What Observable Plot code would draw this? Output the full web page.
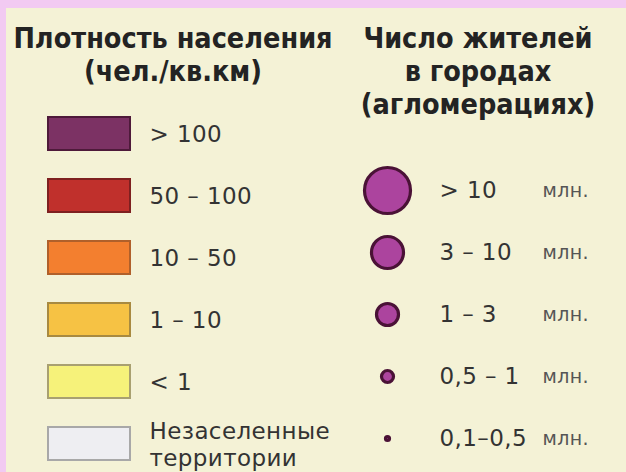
<!DOCTYPE html>
<html><head><meta charset="utf-8">
<script src="https://cdn.jsdelivr.net/npm/d3@7"></script>
<script src="https://cdn.jsdelivr.net/npm/@observablehq/plot@0.6"></script>
<style>
html,body{margin:0;padding:0;background:#f2caf2;}
#frame{position:relative;width:626px;height:472px;background:#f2caf2;overflow:hidden;}
#panel{position:absolute;left:6px;top:8px;right:0;bottom:0;background:#f4f2d6;}
.title{position:absolute;text-align:center;font-family:"DejaVu Sans Condensed","DejaVu Sans",sans-serif;font-stretch:condensed;font-weight:bold;font-size:28.5px;line-height:33px;color:#232323;white-space:pre-line;}
.plot{position:absolute;left:0;top:0;}
</style></head><body>
<div id="frame"><div id="panel"></div>
<div class="title" id="t1" style="left:0;width:346px;top:22px"></div>
<div class="title" id="t2" style="left:350px;width:256px;top:22px"></div>
</div>
<script>
// ---- data ----
const densityTitle = ["Плотность населения", "(чел./кв.км)"];
const cityTitle = ["Число жителей", "в городах", "(агломерациях)"];
const densityClasses = [">100", "50-100", "10-50", "1-10", "<1", "none"];
const densityLabels = ["> 100", "50 – 100", "10 – 50", "1 – 10", "< 1", "Незаселенные\nтерритории"];
const densityFill = ["#7c3264", "#c0302c", "#f37f2f", "#f6c244", "#f6f27a", "#eeeef2"];
const densityStroke = ["#4e1a3a", "#7e2020", "#b0602a", "#a88a40", "#a8a070", "#a8a8a8"];
const cityClasses = [">10", "3-10", "1-3", "0.5-1", "0.1-0.5"];
const cityLabels = ["> 10", "3 – 10", "1 – 3", "0,5 – 1", "0,1–0,5"];
const cityUnit = ["млн.", "млн.", "млн.", "млн.", "млн."];

document.getElementById("t1").textContent = densityTitle.join("\n");
document.getElementById("t2").textContent = cityTitle.join("\n");

const dens = densityClasses.map((c, i) => ({c, label: densityLabels[i], fill: densityFill[i], stroke: densityStroke[i]}));
const cities = cityClasses.map((c, i) => ({c, label: cityLabels[i], unit: cityUnit[i]}));

const font = "DejaVu Sans, sans-serif";

const left = Plot.plot({
  width: 626, height: 472, margin: 0,
  style: {background: "transparent", fontFamily: font, letterSpacing: "0.4px"},
  x: {type: "band", domain: ["swatch"], range: [48, 130], padding: 0, axis: null},
  y: {type: "band", domain: densityClasses, range: [102, 475.2], paddingInner: 0.47, paddingOuter: 0.235, axis: null},
  color: {type: "identity"},
  marks: [
    Plot.cell(dens, {x: () => "swatch", y: "c", fill: "fill", stroke: "stroke", strokeWidth: 2, inset: 0}),
    Plot.text(dens, {y: "c", text: "label", frameAnchor: "left", dx: 149, textAnchor: "start", fontSize: 23, fill: "#333", lineHeight: 1.15})
  ]
});
left.classList.add("plot");

const right = Plot.plot({
  width: 626, height: 472, margin: 0,
  style: {background: "transparent", fontFamily: font, letterSpacing: "0.4px"},
  x: {type: "point", domain: ["circle"], range: [372, 402], axis: null},
  y: {type: "point", domain: cityClasses, range: [190, 438], padding: 0, axis: null},
  r: {type: "ordinal", domain: cityClasses, range: [23, 16, 11, 6, 2]},
  marks: [
    Plot.dot(cities, {x: () => "circle", y: "c", r: "c", fill: "#ac449e", stroke: "#4a1236", strokeWidth: 3.2}),
    Plot.text(cities, {y: "c", text: "label", frameAnchor: "left", dx: 439, textAnchor: "start", fontSize: 23, fill: "#333"}),
    Plot.text(cities, {y: "c", text: "unit", frameAnchor: "left", dx: 542, textAnchor: "start", fontSize: 19, fill: "#555"})
  ]
});
right.classList.add("plot");

document.getElementById("frame").append(left, right);
</script>
</body></html>
